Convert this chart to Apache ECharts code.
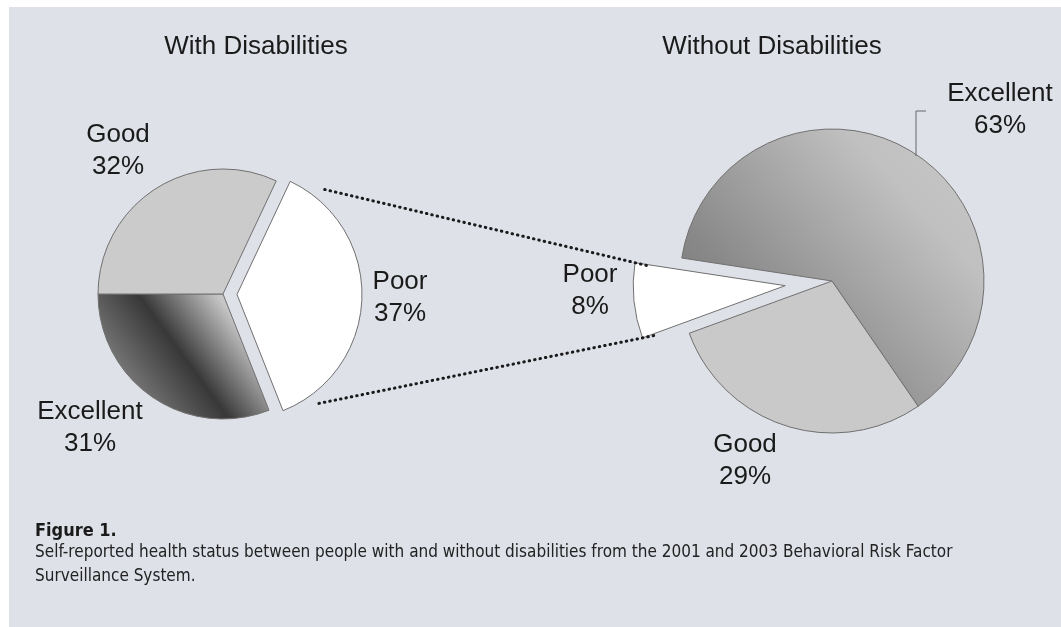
<!DOCTYPE html>
<html>
<head>
<meta charset="utf-8">
<title>Self-reported health status</title>
<script src="https://cdn.jsdelivr.net/npm/echarts@6/dist/echarts.min.js"></script>
<style>
  html, body { margin: 0; padding: 0; background: #fff; }
  #chart { width: 1061px; height: 627px; }
</style>
</head>
<body>
<div id="chart"></div>
<script>
// health status shares (%), in drawing order (clockwise)
var withNames = ["Poor", "Excellent", "Good"];
var withValues = [37, 31, 32];
var withoutNames = ["Excellent", "Good", "Poor"];
var withoutValues = [63, 29, 8];
var groupTitles = ["With Disabilities", "Without Disabilities"];
var figureLabel = "Figure 1.";
var captionLines = [
  "Self-reported health status between people with and without disabilities from the 2001 and 2003 Behavioral Risk Factor",
  "Surveillance System."
];

var FONT = "'Liberation Sans', Arial, Helvetica, sans-serif";
var NARROW = "'Liberation Sans Narrow', 'DejaVu Sans Condensed', 'Liberation Sans', sans-serif";
var EXPLODED = "Poor";

// centre of each label block
var leftLabelAt = { Poor: [400, 298], Excellent: [90, 428], Good: [118, 151] };
var rightLabelAt = { Excellent: [1000, 110], Good: [745, 461], Poor: [590, 291] };

var leftColors = {
  Good: "#cbcbcb",
  Poor: "#ffffff",
  Excellent: new echarts.graphic.LinearGradient(0, 1, 1, 0, [
    { offset: 0, color: "#a8a8a8" },
    { offset: 0.5, color: "#383838" },
    { offset: 0.8, color: "#c6c6c6" },
    { offset: 1, color: "#bcbcbc" }
  ])
};
var rightColors = {
  Good: "#c9c9c9",
  Poor: "#ffffff",
  Excellent: new echarts.graphic.LinearGradient(0, 1, 1, 0, [
    { offset: 0, color: "#6e6e6e" },
    { offset: 0.3, color: "#888888" },
    { offset: 0.75, color: "#c0c0c0" },
    { offset: 1, color: "#c8c8c8" }
  ])
};

function placeLabels(names, spots) {
  return function (params) {
    var p = spots[names[params.dataIndex]];
    return { x: p[0], y: p[1], align: "center", verticalAlign: "middle" };
  };
}

function pieData(names, values, colors) {
  return names.map(function (n, i) {
    var item = { name: n, value: values[i], itemStyle: { color: colors[n] } };
    if (n === EXPLODED) {
      item.selected = true;
      item.label = { show: false }; // drawn as graphic text below
    }
    return item;
  });
}

function pieSeries(center, radius, startAngle, offset, names, values, colors, spots) {
  return {
    type: "pie",
    center: center,
    radius: radius,
    startAngle: startAngle,
    clockwise: true,
    selectedMode: "single",
    selectedOffset: offset,
    avoidLabelOverlap: false,
    silent: true,
    emphasis: { disabled: true },
    itemStyle: { borderColor: "#707070", borderWidth: 1 },
    label: {
      show: true,
      position: "outside",
      formatter: "{b}\n{c}%",
      fontFamily: FONT,
      fontSize: 26,
      lineHeight: 32,
      color: "#1a1a1a"
    },
    labelLine: { show: false },
    labelLayout: placeLabels(names, spots),
    data: pieData(names, values, colors)
  };
}

function explodedLabel(id, names, values, spots) {
  var i = names.indexOf(EXPLODED);
  var p = spots[EXPLODED];
  return {
    id: id, type: "text", x: p[0], y: p[1], z: 60, silent: true,
    style: {
      text: names[i] + "\n" + values[i] + "%",
      font: "26px " + FONT, lineHeight: 32, fill: "#1a1a1a",
      align: "center", verticalAlign: "middle"
    }
  };
}

var myChart = echarts.init(document.getElementById("chart"));
var option = {
  backgroundColor: "#ffffff",
  animation: false,
  series: [
    pieSeries([223, 294], 125, 64.8, 14, withNames, withValues, leftColors, leftLabelAt),
    pieSeries([832, 281], 152, 171.3, 47, withoutNames, withoutValues, rightColors, rightLabelAt)
  ],
  graphic: [
    { id: "panel", type: "rect", z: -10, silent: true,
      shape: { x: 9, y: 7, width: 1052, height: 620 }, style: { fill: "#dfe1e9" } },
    { id: "t1", type: "text", x: 256, y: 47,
      style: { text: groupTitles[0], font: "26px " + FONT, fill: "#1a1a1a", align: "center", verticalAlign: "middle" } },
    { id: "t2", type: "text", x: 772, y: 47,
      style: { text: groupTitles[1], font: "26px " + FONT, fill: "#1a1a1a", align: "center", verticalAlign: "middle" } },
    explodedLabel("poorL", withNames, withValues, leftLabelAt),
    explodedLabel("poorR", withoutNames, withoutValues, rightLabelAt),
    { id: "lead", type: "polyline", z: 50, silent: true,
      shape: { points: [[926, 111], [916, 111], [916, 156]] },
      style: { stroke: "#666", lineWidth: 1, fill: null } },
    { id: "fig", type: "text", x: 35, y: 531,
      style: { text: figureLabel, font: "bold 18px " + NARROW, fill: "#1a1a1a", verticalAlign: "middle" } },
    { id: "cap", type: "text", x: 35, y: 541,
      style: { text: captionLines.join("\n"), font: "17px " + NARROW, lineHeight: 24, fill: "#222", verticalAlign: "top" } }
  ]
};
myChart.setOption(option);

// dotted connectors between the two exploded slices, taken from the pie layout
function explodedCorners(seriesIndex, offset) {
  var data = myChart.getModel().getSeriesByIndex(seriesIndex).getData();
  var lay = data.getItemLayout(data.indexOfName(EXPLODED));
  var mid = (lay.startAngle + lay.endAngle) / 2;
  var ox = lay.cx + Math.cos(mid) * offset;
  var oy = lay.cy + Math.sin(mid) * offset;
  var pts = [lay.startAngle, lay.endAngle].map(function (a) {
    return [ox + lay.r * Math.cos(a), oy + lay.r * Math.sin(a)];
  });
  pts.sort(function (a, b) { return a[1] - b[1]; });
  return pts;
}
var a = explodedCorners(0, 14);
var b = explodedCorners(1, 47);
function seg(p, q, t0, t1) {
  return {
    x1: p[0] + (q[0] - p[0]) * t0, y1: p[1] + (q[1] - p[1]) * t0,
    x2: p[0] + (q[0] - p[0]) * t1, y2: p[1] + (q[1] - p[1]) * t1
  };
}
var dotStyle = { stroke: "#1a1a1a", lineWidth: 3, lineDash: [0.5, 5], lineCap: "round" };
myChart.setOption({
  graphic: [
    { id: "dotTop", type: "line", z: 100, silent: true, shape: seg(a[0], b[0], 0.1, 1.04), style: dotStyle },
    { id: "dotBot", type: "line", z: 100, silent: true, shape: seg(a[1], b[1], 0.1, 1.04), style: dotStyle }
  ]
});
</script>
</body>
</html>
